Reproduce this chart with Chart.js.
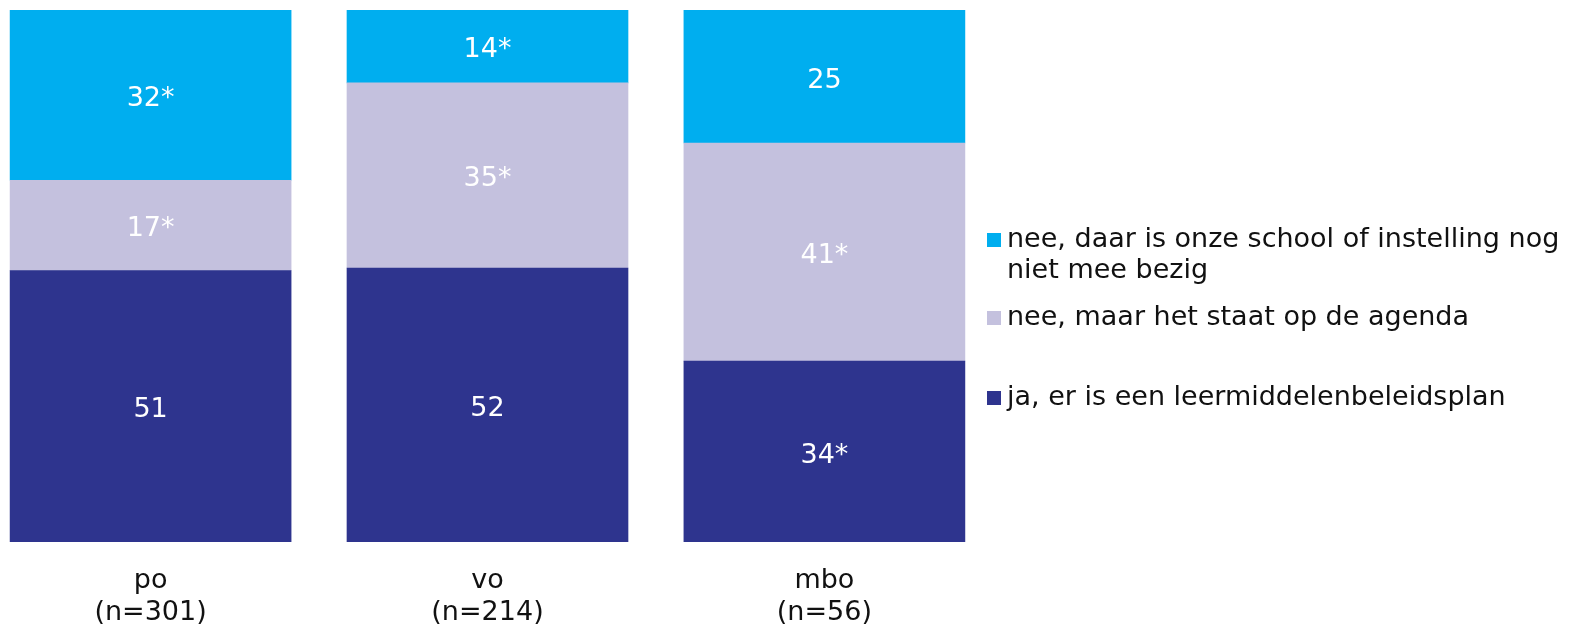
<!DOCTYPE html>
<html lang="nl">
<head>
  <meta charset="UTF-8" />
  <title>Leermiddelenbeleidsplan</title>
  <script src="https://cdn.jsdelivr.net/npm/chart.js"></script>
  <style>
    html, body { margin: 0; padding: 0; background: #fff; }
    #wrap { width: 1570px; height: 626px; position: relative; }
  </style>
</head>
<body>
  <div id="wrap"><canvas id="chart"></canvas></div>

  <script>
    // categories (two-line tick labels)
    const categories = [['po', '(n=301)'], ['vo', '(n=214)'], ['mbo', '(n=56)']];

    // series, bottom to top (percentages)
    const seriesNames = [
      'ja, er is een leermiddelenbeleidsplan',
      'nee, maar het staat op de agenda',
      'nee, daar is onze school of instelling nog niet mee bezig'
    ];
    const jaValues = [51, 51.5, 34];
    const agendaValues = [17, 34.8, 41];
    const nietValues = [32, 13.7, 25];

    // printed labels (asterisk = significant difference)
    const jaLabels = ['51', '52', '34*'];
    const agendaLabels = ['17*', '35*', '41*'];
    const nietLabels = ['32*', '14*', '25'];

    const colors = ['#2e348e', '#c4c1de', '#00aeef'];
    const FONT = '"DejaVu Sans", Verdana, sans-serif';

    const toPoints = vals => vals.map((v, i) => ({ x: i, y: v }));

    const valueLabels = {
      id: 'valueLabels',
      afterDatasetsDraw(chart) {
        const ctx = chart.ctx;
        ctx.save();
        ctx.font = '27px ' + FONT;
        ctx.fillStyle = '#ffffff';
        ctx.textAlign = 'center';
        ctx.textBaseline = 'middle';
        chart.data.datasets.forEach((ds, di) => {
          chart.getDatasetMeta(di).data.forEach((bar, i) => {
            ctx.fillText(ds.labels[i], bar.x, (bar.y + bar.base) / 2 + 4);
          });
        });
        ctx.restore();
      }
    };

    // legend on the right, top series first, long text wrapped
    const sideLegend = {
      id: 'sideLegend',
      afterDraw(chart, args, opts) {
        const ctx = chart.ctx;
        ctx.save();
        ctx.font = '27px ' + FONT;
        ctx.textBaseline = 'middle';
        opts.items.forEach(item => {
          const ds = chart.data.datasets[item.dataset];
          ctx.fillStyle = ds.backgroundColor;
          ctx.fillRect(opts.x, item.y - 7, 14, 14);
          ctx.fillStyle = '#111111';
          item.lines.forEach((line, li) => {
            ctx.fillText(line, opts.x + 20, item.y + li * 31);
          });
        });
        ctx.restore();
      }
    };

    const datasets = [
      { label: seriesNames[0], data: toPoints(jaValues), labels: jaLabels, backgroundColor: colors[0] },
      { label: seriesNames[1], data: toPoints(agendaValues), labels: agendaLabels, backgroundColor: colors[1] },
      { label: seriesNames[2], data: toPoints(nietValues), labels: nietLabels, backgroundColor: colors[2] }
    ];

    new Chart(document.getElementById('chart'), {
      type: 'bar',
      data: { datasets },
      options: {
        responsive: true,
        maintainAspectRatio: false,
        animation: false,
        layout: { padding: { top: 10, right: 595, bottom: 0, left: 0 } },
        datasets: { bar: { barThickness: 281, borderWidth: 0 } },
        scales: {
          x: {
            type: 'linear',
            stacked: true,
            offset: false,
            min: -0.447,
            max: 2.447,
            grid: { display: false, drawTicks: false, offset: false },
            border: { display: false },
            afterBuildTicks: axis => { axis.ticks = categories.map((c, i) => ({ value: i })); },
            afterFit: axis => { axis.height = 84; },
            ticks: {
              padding: 23,
              color: '#111111',
              font: { family: FONT, size: 27, lineHeight: 1.19 },
              callback: v => categories[v]
            }
          },
          y: {
            stacked: true,
            min: 0,
            max: 100,
            display: false
          }
        },
        plugins: {
          legend: { display: false },
          tooltip: { enabled: false },
          sideLegend: {
            x: 987,
            items: [
              { dataset: 2, y: 240, lines: ['nee, daar is onze school of instelling nog', 'niet mee bezig'] },
              { dataset: 1, y: 318, lines: [seriesNames[1]] },
              { dataset: 0, y: 398, lines: [seriesNames[0]] }
            ]
          }
        }
      },
      plugins: [valueLabels, sideLegend]
    });
  </script>
</body>
</html>
